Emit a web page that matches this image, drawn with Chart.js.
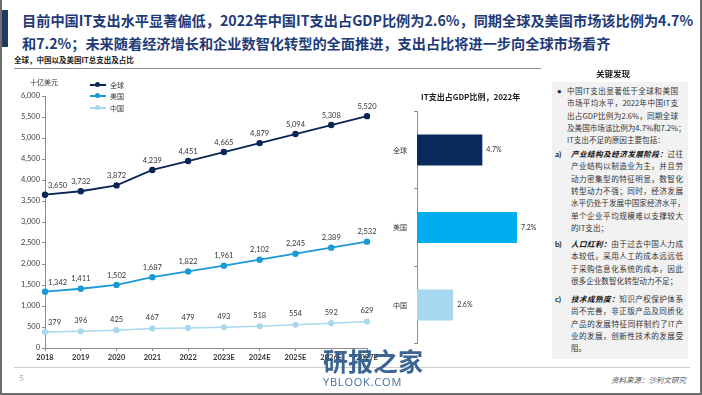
<!DOCTYPE html>
<html>
<head>
<meta charset="utf-8">
<script src="https://cdn.jsdelivr.net/npm/chart.js@4.4.1/dist/chart.umd.min.js"></script>
<style>
body{margin:0;background:#fff;font-family:"Noto Sans CJK SC",sans-serif}
#page{position:relative;width:702px;height:395px;overflow:hidden;background:#fff}
.abs{position:absolute;white-space:nowrap}
#frame{position:absolute;left:0;top:0;width:702px;height:395px;box-sizing:border-box;border-left:2px solid #6e6e6e;border-right:2px solid #6e6e6e;border-bottom:2px solid #6e6e6e;pointer-events:none}
.title{left:22px;top:9px;font-size:14.2px;font-weight:bold;line-height:23px;color:#1f3a78}
.leg{font-size:7px;color:#333;display:flex;align-items:center}
.leg i{display:inline-block;position:relative;width:16px;height:2px;margin-right:4px}
.leg i b{position:absolute;left:5px;top:-2px;width:5px;height:5px;border-radius:50%}
#panel{position:absolute;left:552px;top:82px;width:136px;height:277px;background:#f2f2f2}
.ln{position:absolute;font-size:7.6px;line-height:10px;color:#333;text-align:justify;text-align-last:justify;white-space:nowrap}
.ln.last{text-align-last:left}
.mk{position:absolute;font-size:8px;font-weight:bold;color:#222;font-family:Lato,sans-serif}
.bi{font-weight:bold;font-style:italic;color:#111}
</style>
</head>
<body>
<div id="page">
<div class="abs" style="left:0;top:10px;width:8px;height:37px;background:#1f3864"></div>
<div class="abs title">目前中国IT支出水平显著偏低，2022年中国IT支出占GDP比例为2.6%，同期全球及美国市场该比例为4.7%<br>和7.2%；未来随着经济增长和企业数智化转型的全面推进，支出占比将进一步向全球市场看齐</div>
<div class="abs" style="left:14px;top:54px;font-size:7.5px;font-weight:bold;color:#222">全球，中国以及美国IT总支出及占比</div>
<div class="abs" style="left:14px;top:68px;width:527px;height:1px;background:#8c8c8c"></div>

<canvas id="lineChart" class="abs" style="left:0;top:70px" width="400" height="300"></canvas>
<div class="abs" style="left:30px;top:77px;font-size:7px;color:#333">十亿美元</div>
<div class="abs leg" style="left:90px;top:80px"><i style="background:#0b2556"><b style="background:#0b2556"></b></i>全球</div>
<div class="abs leg" style="left:90px;top:91px"><i style="background:#1a9ad6"><b style="background:#1a9ad6"></b></i>美国</div>
<div class="abs leg" style="left:90px;top:103px"><i style="background:#a8d8ee"><b style="background:#a8d8ee"></b></i>中国</div>

<div class="abs" style="left:421px;top:91px;font-size:8px;font-weight:bold;color:#222">IT支出占GDP比例，2022年</div>
<canvas id="barChart" class="abs" style="left:370px;top:100px" width="186" height="255"></canvas>

<div class="abs" style="left:596px;top:67px;font-size:8.5px;font-weight:bold;color:#222">关键发现</div>
<div id="panel"></div>
<div id="notes"></div>

<div class="abs" style="left:14px;top:367px;width:676px;height:1px;background:#cfcfcf"></div>
<div class="abs" style="left:19px;top:373px;font-size:8px;color:#aaa;font-family:Lato,sans-serif">5</div>
<div class="abs" style="left:611px;top:374px;font-size:7.5px;font-style:italic;color:#555">资料来源：沙利文研究</div>

<div class="abs" style="left:323px;top:342px;font-size:25px;font-weight:bold;color:rgba(38,84,135,0.9)">研报之家</div>
<div class="abs" style="left:323px;top:374px;font-size:11px;color:rgba(48,96,150,0.9);font-family:'Open Sans',sans-serif;letter-spacing:0.8px">YBLOOK.COM</div>
<div id="frame"></div>
</div>

<script>
const years=["2018","2019","2020","2021","2022","2023E","2024E","2025E","2026E","2027E"]
const globalSpend=[3650,3732,3872,4239,4451,4665,4879,5094,5308,5520]
const usSpend=[1342,1411,1502,1687,1822,1961,2102,2245,2389,2532]
const chinaSpend=[379,396,425,467,479,493,518,554,592,629]

const gdpLabels=["全球","美国","中国"]
const gdpShare=[4.7,7.2,2.6]
const gdpColors=["#0a2a5e","#00aeef","#a6d8f0"]

// right panel notes, one entry per printed line
const notes=[
 {mk:"•",lines:["中国IT支出显著低于全球和美国","市场平均水平，2022年中国IT支","出占GDP比例为2.6%，同期全球","及美国市场该比例为4.7%和7.2%；","IT支出不足的原因主要包括："],top:86,left:567},
 {mk:"a)",bold:"产业结构及经济发展阶段：",lines:["过往","产业结构以制造业为主，并且劳","动力密集型的特征明显，数智化","转型动力不强；同时，经济发展","水平仍处于发展中国家经济水平，","单个企业平均规模难以支撑较大","的IT支出；"],top:149,left:571},
 {mk:"b)",bold:"人口红利：",lines:["由于过去中国人力成","本较低，采用人工的成本远远低","于采购信息化系统的成本，因此","很多企业数智化转型动力不足；"],top:239,left:571},
 {mk:"c)",bold:"技术成熟度：",lines:["知识产权保护体系","尚不完善，非正版产品及同质化","产品的发展特征同样制约了IT产","业的发展，创新性技术的发展受","阻。"],top:294,left:571}
]

let box=document.getElementById("notes")
notes.forEach(n=>{
 box.innerHTML+=`<div class="mk" style="left:${n.mk=="•"?557:555}px;top:${n.top}px">${n.mk}</div>`
 n.lines.forEach((l,i)=>{
  let txt=(i==0&&n.bold)?`<span class="bi">${n.bold}</span>${l}`:l
  let last=(i==n.lines.length-1)?" last":""
  box.innerHTML+=`<div class="ln${last}" style="left:${n.left}px;top:${n.top+i*12.3}px;width:${n.left==567?111:112}px">${txt}</div>`
 })
})

Chart.defaults.font.family="Lato, 'Noto Sans CJK SC', sans-serif"
Chart.defaults.color="#333"
Chart.defaults.animation=false

const pointLabels={
 id:"pointLabels",
 afterDatasetsDraw(c){
  const ctx=c.ctx
  ctx.save()
  ctx.font="7.5px Lato, sans-serif"
  ctx.fillStyle="#333"
  ctx.textBaseline="bottom"
  c.data.datasets.forEach((ds,di)=>{
   c.getDatasetMeta(di).data.forEach((p,i)=>{
    let t=ds.data[i].toLocaleString("en-US")
    let off=di==2?6:5
    if(i==0){ctx.textAlign="left";ctx.fillText(t,p.x+3,p.y-off)}
    else{ctx.textAlign="center";ctx.fillText(t,p.x,p.y-off-1)}
   })
  })
  ctx.restore()
 }
}

new Chart(document.getElementById("lineChart"),{
 type:"line",
 data:{
  labels:years,
  datasets:[
   {label:"全球",data:globalSpend,borderColor:"#0b2556",backgroundColor:"#0b2556",borderWidth:1.8,pointRadius:2.3,tension:0},
   {label:"美国",data:usSpend,borderColor:"#1a9ad6",backgroundColor:"#1a9ad6",borderWidth:1.8,pointRadius:2.3,tension:0},
   {label:"中国",data:chinaSpend,borderColor:"#a8d8ee",backgroundColor:"#a8d8ee",borderWidth:1.5,pointRadius:2.3,tension:0}
  ]
 },
 options:{
  responsive:false,
  layout:{padding:{top:26,right:33,left:0,bottom:0}},
  plugins:{legend:{display:false},tooltip:{enabled:false}},
  scales:{
   x:{
    offset:false,
    grid:{drawOnChartArea:false,tickLength:3,color:"#8c8c8c"},
    border:{color:"#8c8c8c"},
    ticks:{font:{size:7.5,weight:"bold"},color:"#333",padding:2,maxRotation:0,autoSkip:false},
    afterFit(a){a.height=22}
   },
   y:{
    min:0,max:6000,
    grid:{drawOnChartArea:false,tickLength:3,color:"#8c8c8c"},
    border:{color:"#8c8c8c"},
    ticks:{stepSize:500,font:{size:7.5},color:"#404040",padding:2,callback:v=>v.toLocaleString("en-US")},
    afterFit(a){a.width=45}
   }
  }
 },
 plugins:[pointLabels]
})

const barLabels={
 id:"barLabels",
 afterDatasetsDraw(c){
  const ctx=c.ctx
  ctx.save()
  ctx.font="7px Lato, sans-serif"
  ctx.fillStyle="#333"
  ctx.textAlign="left"
  ctx.textBaseline="middle"
  c.getDatasetMeta(0).data.forEach((b,i)=>{
   ctx.fillText(gdpShare[i].toFixed(1)+"%",b.x+4,b.y)
  })
  ctx.restore()
 }
}

new Chart(document.getElementById("barChart"),{
 type:"bar",
 data:{
  labels:gdpLabels,
  datasets:[{data:gdpShare,backgroundColor:gdpColors,categoryPercentage:1,barPercentage:0.4}]
 },
 options:{
  indexAxis:"y",
  responsive:false,
  layout:{padding:{top:7,bottom:7,left:0,right:0}},
  plugins:{legend:{display:false},tooltip:{enabled:false}},
  scales:{
   x:{display:false,min:0,max:10},
   y:{
    grid:{drawOnChartArea:false,tickLength:3,color:"#8c8c8c",offset:true},
    border:{color:"#8c8c8c"},
    ticks:{font:{size:7,family:"'Noto Sans CJK SC', sans-serif"},color:"#333",padding:7},
    afterFit(a){a.width=47}
   }
  }
 },
 plugins:[barLabels]
})
</script>
</body>
</html>
